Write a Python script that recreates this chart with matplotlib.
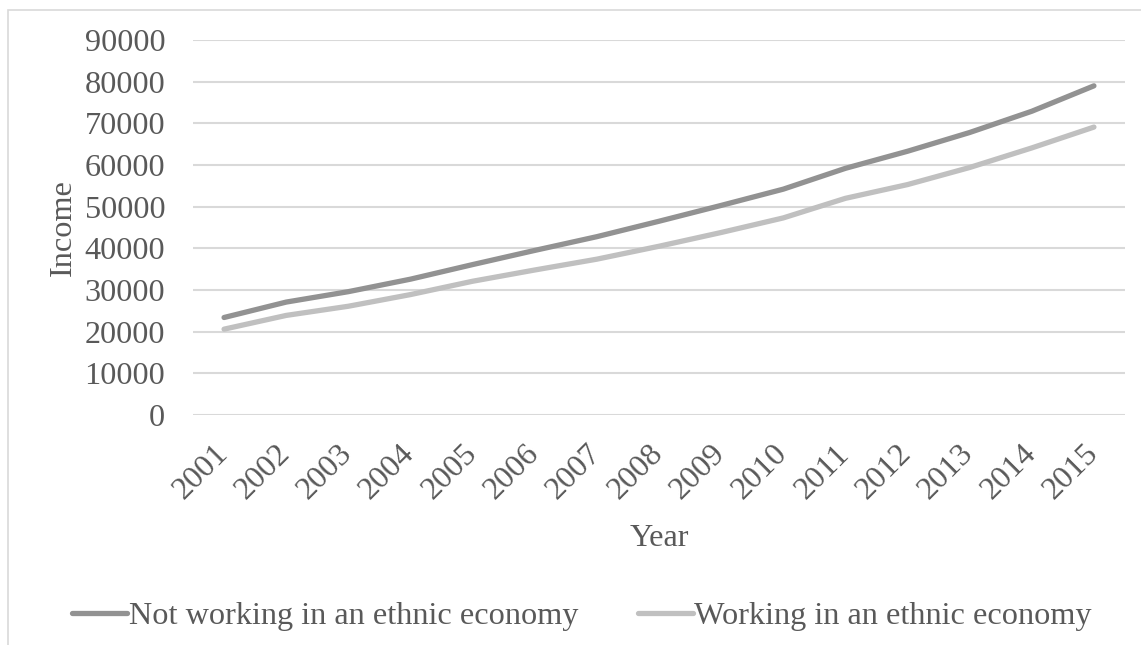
import matplotlib
matplotlib.use("Agg")
import matplotlib.pyplot as plt
import matplotlib.transforms as mtransforms
from matplotlib.patches import Rectangle

# Series
years = ["2001", "2002", "2003", "2004", "2005", "2006", "2007", "2008",
         "2009", "2010", "2011", "2012", "2013", "2014", "2015"]
not_ethnic = [23400, 27100, 29600, 32600, 36100, 39500, 42800, 46500,
              50300, 54200, 59200, 63300, 67800, 72900, 79000]
ethnic = [20600, 23900, 26100, 28900, 32100, 34800, 37400, 40500,
          43800, 47300, 52000, 55300, 59400, 64100, 69100]
yticks = list(range(0, 90001, 10000))

plt.rcParams["font.family"] = ["Liberation Serif", "DejaVu Serif"]
txt = "#595959"
fs = 23.2

fig = plt.figure(figsize=(11.41, 6.45), dpi=100)
W, H = 1141, 645
ax = fig.add_axes([193 / W, 1 - 415 / H, (1125 - 193) / W, (415 - 40) / H])

x = list(range(len(years)))
ax.plot(x, not_ethnic, color="#929292", lw=3.8, solid_capstyle="round",
        solid_joinstyle="round", label="Not working in an ethnic economy")
ax.plot(x, ethnic, color="#c0c0c0", lw=3.8, solid_capstyle="round",
        solid_joinstyle="round", label="Working in an ethnic economy")

ax.set_xlim(-0.5, len(years) - 0.5)
ax.set_ylim(0, 90000)
ax.set_yticks(yticks)
ax.set_yticklabels([str(v) for v in yticks])
ax.set_xticks(x)
ax.set_xticklabels(years, rotation=45, ha="right")
ax.grid(axis="y", color="#d9d9d9", lw=1.5)
ax.set_axisbelow(True)
for s in ax.spines.values():
    s.set_visible(False)
ax.tick_params(axis="y", length=0, pad=20, labelsize=fs, labelcolor=txt)
ax.tick_params(axis="x", length=0, pad=17.5, labelsize=fs, labelcolor=txt)

# nudge year labels so their ends sit at the category
shift = mtransforms.ScaledTranslation(10 / 100, 0, fig.dpi_scale_trans)
for lbl in ax.get_xticklabels():
    lbl.set_transform(lbl.get_transform() + shift)

ax.set_ylabel("Income", fontsize=fs, color=txt)
ax.yaxis.set_label_coords((78 - 193) / 932, 0.5)
ax.set_xlabel("Year", fontsize=fs, color=txt)
ax.xaxis.set_label_coords(0.5, -(538 - 415) / 375)
ax.xaxis.label.set_va("center")

leg = fig.legend(loc="center", bbox_to_anchor=(582 / W, 1 - 616 / H), ncol=2,
                 frameon=False, fontsize=fs, handlelength=1.7,
                 handletextpad=0.05, columnspacing=1.85, borderaxespad=0)
for t in leg.get_texts():
    t.set_color(txt)

# chart area border
fig.add_artist(Rectangle((7.5 / W, -0.1), 1.2, 1 - 9.5 / H + 0.1,
                         transform=fig.transFigure, fill=False,
                         edgecolor="#d9d9d9", lw=1.2, clip_on=False))

fig.savefig("out.png", dpi=100)
